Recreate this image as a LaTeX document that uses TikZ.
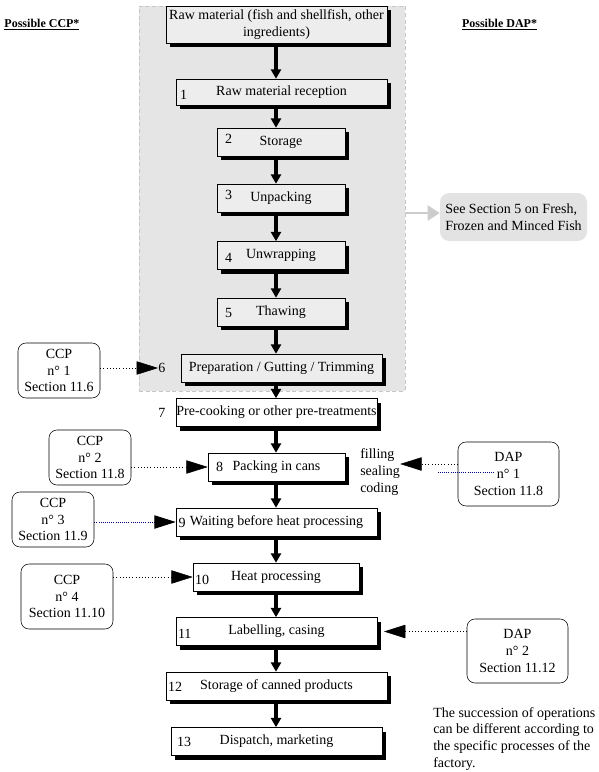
\documentclass[tikz,border=0pt]{standalone}
\usepackage{fontspec}
\setmainfont{Liberation Serif}
\usetikzlibrary{arrows.meta, shadows}

\begin{document}
\begin{tikzpicture}[x=0.75pt, y=-0.75pt, every node/.style={font=\fontsize{10.5}{12.5}\selectfont},
  zonebox/.style={rectangle, draw=gray!45, densely dashed, fill=gray!20, minimum width=199.5pt, minimum height=288.75pt},
  stepbox/.style={rectangle, draw, fill=gray!14, inner sep=0pt, minimum height=21pt,
    drop shadow={shadow xshift=3pt, shadow yshift=-3pt, fill=black, opacity=1}},
  outbox/.style={stepbox, fill=white},
  num/.style={anchor=west, inner sep=0pt},
  point/.style={rectangle, rounded corners=6pt, draw, fill=white, align=center, inner sep=0pt},
  seebox/.style={rectangle, rounded corners=7pt, fill=gray!22, align=left, inner sep=0pt, minimum width=110.25pt, minimum height=36pt},
  flow/.style={line width=2.3pt, -{Triangle[length=7pt, width=7.5pt]}},
  hint/.style={dotted, thin, -{Triangle[length=16pt, width=10pt]}},
  navyhint/.style={densely dotted, semithick, draw=blue!50!black, -{Triangle[length=16pt, width=10pt, color=black]}},
  seearrow/.style={line width=2.2pt, gray!40, -{Triangle[length=9pt, width=11pt]}},
  title/.style={font=\fontsize{9}{10}\selectfont\bfseries}
]
\useasboundingbox (0,0) rectangle (599,772);
% Headings
\node[title] (ccphead) at (42,25) {\underline{Possible CCP*}};
\node[title] (daphead) at (499.5,25) {\underline{Possible DAP*}};
% Zone covered by section 5
\node[zonebox] (zone) at (272,198.5) {};
% Steps
\coordinate (spine) at (276,0);
\node[stepbox, minimum width=165.75pt, minimum height=27.75pt, align=center] (b0) at (276.5,24.5) {Raw material (fish and shellfish, other\\ingredients)};
\node[stepbox, minimum width=158.25pt, minimum height=19.5pt, label={[num, xshift=3pt, yshift=-2pt]west:1}] (b1) at (281.5,92) {Raw material reception};
\node[stepbox, minimum width=96pt, label={[num, xshift=6pt, yshift=2pt]west:2}] (b2) at (281,142) {Storage};
\node[stepbox, minimum width=96pt, label={[num, xshift=6pt, yshift=2pt]west:3}] (b3) at (281,198) {Unpacking};
\node[stepbox, minimum width=96pt, label={[num, xshift=6pt, yshift=-2pt]west:4}] (b4) at (281,255.5) {Unwrapping};
\node[stepbox, minimum width=96pt, label={[num, xshift=6pt, yshift=-1pt]west:5}] (b5) at (281,312) {Thawing};
\node[stepbox, minimum width=150.75pt] (b6) at (281.5,368) {Preparation / Gutting / Trimming};
\node[num] (n6) at (158,368) {6};
\node[outbox, minimum width=150.75pt] (b7) at (276.5,412.5) {Pre-cooking or other pre-treatments};
\node[num] (n7) at (158,413) {7};
\node[outbox, minimum width=102.75pt, label={[num, xshift=6pt]west:8}] (b8) at (276.5,467) {Packing in cans};
\node[outbox, minimum width=150.75pt, label={[num, xshift=2pt, yshift=-1pt]west:9}] (b9) at (276.5,522) {Waiting before heat processing};
\node[outbox, minimum width=124.5pt, label={[num, xshift=1.5pt, yshift=-2pt]west:10}] (b10) at (276,577) {Heat processing};
\node[outbox, minimum width=150.75pt, label={[num, xshift=1.5pt, yshift=-2pt]west:11}] (b11) at (276.5,631.5) {Labelling, casing};
\node[outbox, minimum width=165.75pt, label={[num, xshift=1.5pt, yshift=-1pt]west:12}] (b12) at (276.5,686) {Storage of canned products};
\node[outbox, minimum width=158.25pt, label={[num, xshift=4.5pt]west:13}] (b13) at (276.5,741.5) {Dispatch, marketing};
% Flow
\foreach \a/\b in {b0/b1, b1/b2, b2/b3, b3/b4, b4/b5, b5/b6, b6/b7, b7/b8, b8/b9, b9/b10, b10/b11, b11/b12, b12/b13}
  \draw[flow] (\a.south -| spine) -- (\b.north -| spine);
% Reference to section 5
\node[seebox] (see) at (513.5,217) {See Section 5 on Fresh,\\Frozen and Minced Fish};
\draw[seearrow] ([yshift=3pt]see.west -| zone.east) -- ([yshift=3pt]see.west);
% Critical control points
\node[point, minimum width=61.5pt, minimum height=41.25pt] (ccp1) at (59,370.5) {CCP\\n° 1\\Section 11.6};
\node[point, minimum width=61.5pt, minimum height=41.25pt] (ccp2) at (90,457.5) {CCP\\n° 2\\Section 11.8};
\node[point, minimum width=61.5pt, minimum height=41.25pt] (ccp3) at (53,519.5) {CCP\\n° 3\\Section 11.9};
\node[point, minimum width=69pt, minimum height=48.75pt] (ccp4) at (67,596.5) {CCP\\n° 4\\Section 11.10};
\draw[hint] (ccp1.east |- n6.west) -- (n6.west);
\draw[hint] (ccp2.east |- b8.west) -- (b8.west);
\draw[navyhint] (ccp3.east |- b9.west) -- (b9.west);
\draw[hint] (ccp4.east |- b10.west) -- (b10.west);
% Defect action points
\node[anchor=west, align=left, inner sep=0pt] (fill) at (360,472) {filling\\sealing\\coding};
\node[point, minimum width=75.75pt, minimum height=48pt] (dap1) at (508.5,474) {DAP\\n° 1\\Section 11.8};
\node[point, minimum width=75.75pt, minimum height=48pt] (dap2) at (517.5,651) {DAP\\n° 2\\Section 11.12};
\draw[hint] ([yshift=7.5pt]dap1.west) -- ([yshift=7.5pt]dap1.west -| fill.east);
\draw[densely dotted, semithick, blue!50!black] ([xshift=-15pt, yshift=1.5pt]dap1.west) -- ++(42.75pt,0);
\draw[hint] (dap2.west |- b11.east) -- ([xshift=5pt]b11.east);
% Note
\node[anchor=north west, align=left, inner sep=0pt] (note) at (433,707) {The succession of operations\\can be different according to\\the specific processes of the\\factory.};
\end{tikzpicture}
\end{document}
